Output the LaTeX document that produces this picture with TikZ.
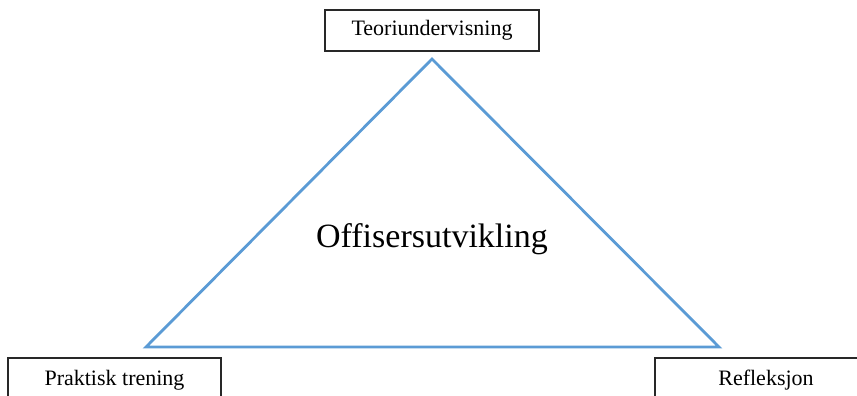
\documentclass[tikz,border=0pt]{standalone}
\usepackage{fontspec}
\setmainfont{Liberation Serif}
\definecolor{triblue}{RGB}{91,155,213}
\definecolor{boxline}{RGB}{40,40,40}
\begin{document}
\begin{tikzpicture}[x=1pt,y=-1pt,
  labelbox/.style={draw=boxline,line width=1.1pt,fill=white,inner sep=0pt,font=\fontsize{22}{26}\selectfont},
  centertext/.style={font=\fontsize{34}{40}\selectfont,inner sep=0pt}]
\useasboundingbox (0,0) rectangle (857,396);
\clip (0,0) rectangle (857,396);
\coordinate (apex) at (432,59);
\coordinate (bl) at (146,347);
\coordinate (br) at (719,347);
\draw[triblue,line width=2.8pt,line join=miter] (apex) -- (bl) -- (br) -- cycle;
\node[labelbox,minimum width=214,minimum height=41] (teori) at (432,30.5) {Teoriundervisning};
\node[labelbox,minimum width=213,minimum height=44] (praktisk) at (114.5,380) {Praktisk trening};
\node[labelbox,minimum width=222,minimum height=44] (refleksjon) at (766,380) {Refleksjon};
\node[centertext,anchor=base] (offiser) at (432,247.5) {Offisersutvikling};
\end{tikzpicture}
\end{document}
